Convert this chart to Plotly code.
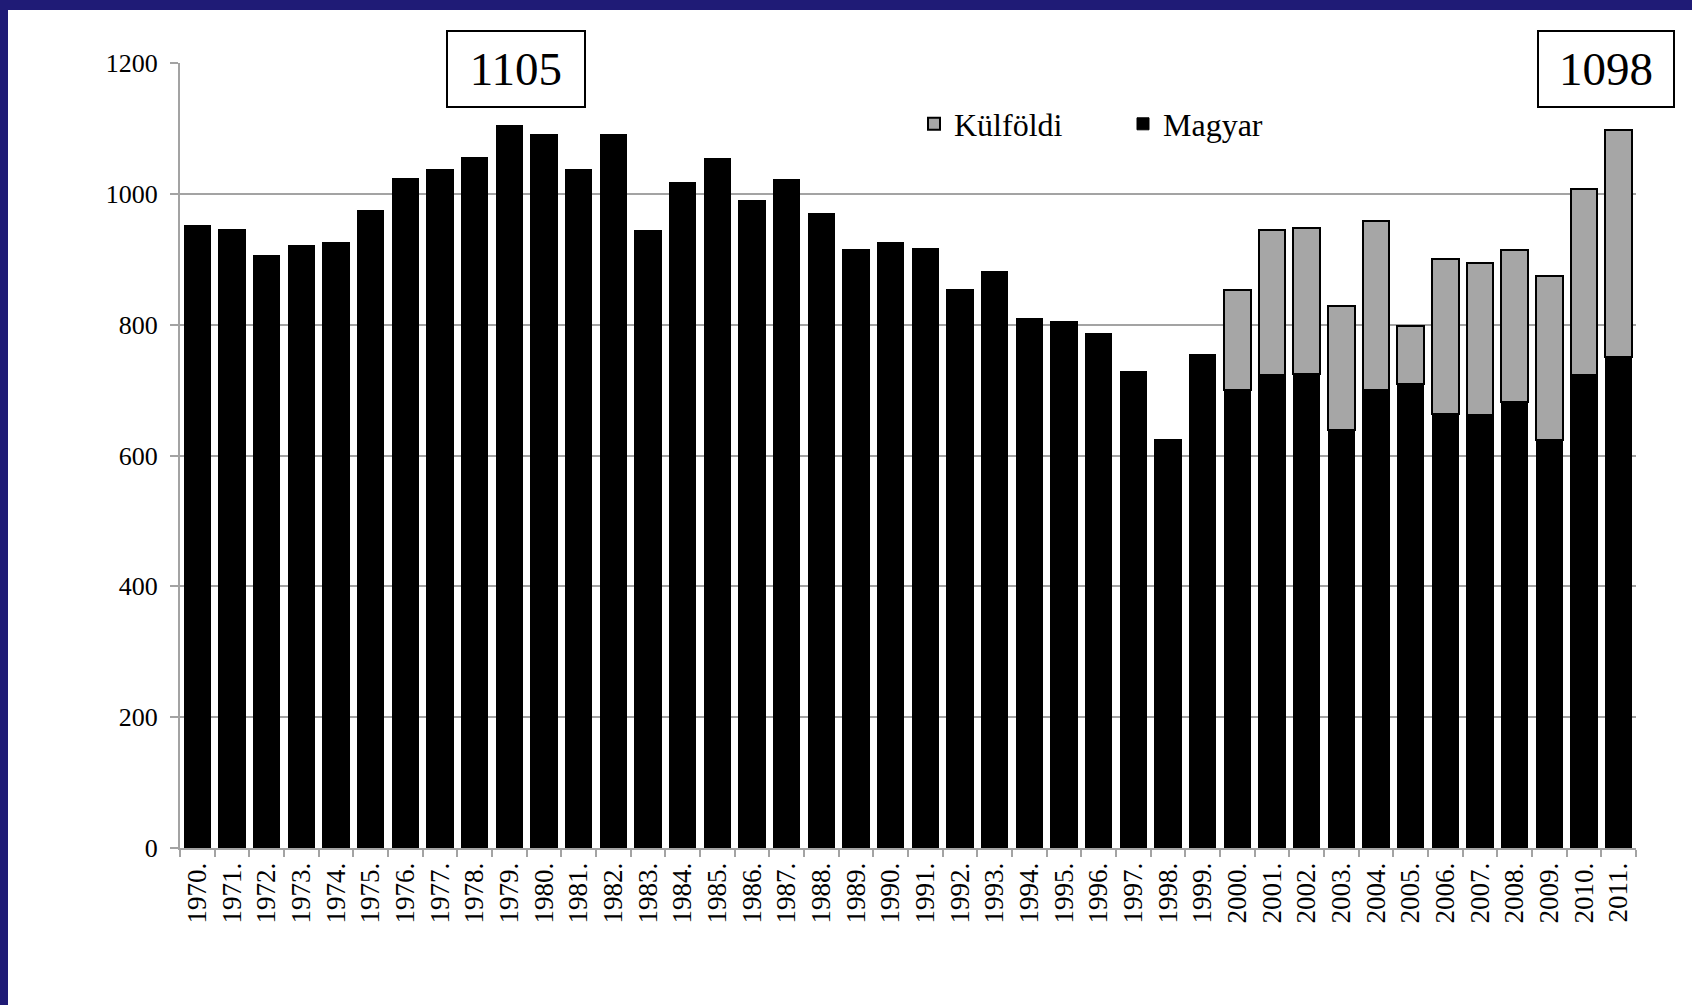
import plotly.graph_objects as go

# Years on the category axis
years = [
    "1970.", "1971.", "1972.", "1973.", "1974.", "1975.", "1976.", "1977.",
    "1978.", "1979.", "1980.", "1981.", "1982.", "1983.", "1984.", "1985.",
    "1986.", "1987.", "1988.", "1989.", "1990.", "1991.", "1992.", "1993.",
    "1994.", "1995.", "1996.", "1997.", "1998.", "1999.", "2000.", "2001.",
    "2002.", "2003.", "2004.", "2005.", "2006.", "2007.", "2008.", "2009.",
    "2010.", "2011.",
]

# Hungarian (Magyar) counts per year
magyar = [
    951, 945, 905, 921, 926, 974, 1024, 1037, 1055, 1105, 1090, 1037, 1091,
    944, 1017, 1054, 990, 1022, 970, 915, 925, 917, 854, 881, 810, 805, 786,
    729, 624, 755, 700, 723, 725, 639, 700, 710, 663, 662, 682, 624, 723, 750,
]

# Foreign (Külföldi) counts per year; no separate figure before 2000
kulfoldi = [None] * 30 + [153, 222, 223, 190, 258, 88, 237, 233, 232, 250, 284, 348]

# Highlighted totals shown in boxes
peak_year, peak_value = "1979.", 1105
last_year, last_value = "2011.", 1098

y_ticks = [0, 200, 400, 600, 800, 1000, 1200]

SERIF = "Liberation Serif, Times New Roman, serif"
NAVY = "#1F1B76"
GRID = "#A3A3A3"

fig = go.Figure()
fig.add_trace(go.Bar(
    x=years, y=magyar, name="Magyar",
    marker=dict(color="#000000", line=dict(color="#000000", width=1)),
))
fig.add_trace(go.Bar(
    x=years, y=kulfoldi, name="Külföldi",
    marker=dict(color="#A6A6A6", line=dict(color="#000000", width=2)),
))

W, H = 1692, 1005
L, R, T, B = 180, 56, 63, 157
pw, ph = W - L - R, H - T - B


def px_x(px):
    return (px - L) / pw


def px_y(py):
    return (H - B - py) / ph


# Value boxes above the plot (category axis positions given as indices,
# since the year labels look numeric)
box_font = dict(family=SERIF, size=47, color="#000000")
for yr, val, shift, w in [(peak_year, peak_value, 7, 136), (last_year, last_value, -13, 134)]:
    fig.add_annotation(
        x=years.index(yr), xref="x", y=px_y(69), yref="paper",
        xanchor="center", yanchor="middle", xshift=shift,
        text=str(val), showarrow=False, font=box_font,
        bgcolor="#FFFFFF", bordercolor="#000000", borderwidth=2,
        borderpad=0, width=w, height=74, align="center", valign="middle",
    )

# Navy frame strips along the top and left edges of the page
fig.add_shape(type="rect", xref="paper", yref="paper",
              x0=px_x(0), x1=px_x(W), y0=px_y(10), y1=px_y(0),
              fillcolor=NAVY, line=dict(width=0), layer="above")
fig.add_shape(type="rect", xref="paper", yref="paper",
              x0=px_x(0), x1=px_x(8), y0=px_y(H), y1=px_y(0),
              fillcolor=NAVY, line=dict(width=0), layer="above")

fig.update_layout(
    width=W, height=H,
    margin=dict(l=L, r=R, t=T, b=B, pad=0),
    paper_bgcolor="#FFFFFF", plot_bgcolor="#FFFFFF",
    barmode="stack", bargap=0.24,
    font=dict(family=SERIF, color="#000000"),
    showlegend=True,
    legend=dict(
        orientation="h", traceorder="reversed",
        x=px_x(914), xanchor="left", y=px_y(124), yanchor="middle",
        font=dict(family=SERIF, size=32, color="#000000"),
        bgcolor="rgba(0,0,0,0)", borderwidth=0,
        entrywidth=164, entrywidthmode="pixels",
    ),
    xaxis=dict(
        type="category", tickangle=-90,
        range=[-0.5, len(years) - 0.5],
        tickfont=dict(family=SERIF, size=27, color="#000000"),
        showline=True, linecolor=GRID, linewidth=2,
        ticks="outside", tickson="boundaries", ticklen=7,
        tickcolor=GRID, tickwidth=2,
        showgrid=False, ticklabelstandoff=2,
    ),
    yaxis=dict(
        range=[0, 1200], tickvals=y_ticks,
        tickfont=dict(family=SERIF, size=26, color="#000000"),
        showline=True, linecolor=GRID, linewidth=2,
        ticks="outside", ticklen=8, tickcolor=GRID, tickwidth=2,
        showgrid=True, gridcolor=GRID, gridwidth=2,
        zeroline=False, ticklabelstandoff=7,
    ),
)

fig.write_html("out.html")
